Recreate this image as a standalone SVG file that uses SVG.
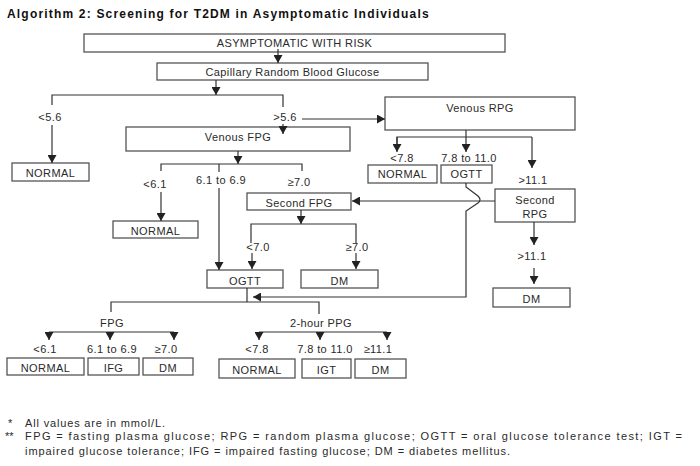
<svg xmlns="http://www.w3.org/2000/svg" width="700" height="466" viewBox="0 0 700 466">
<defs>
<marker id="arr" markerUnits="userSpaceOnUse" viewBox="0 0 8 9" refX="8" refY="4.5" markerWidth="8" markerHeight="9" orient="auto">
<path d="M0,0 L8,4.5 L0,9 z" fill="#222"/>
</marker>
<style>
text{font-family:"Liberation Sans",Arial,sans-serif;font-size:11px;fill:#2a2a2a;letter-spacing:0.4px}
.t{font-weight:bold;font-size:12px;fill:#111}
.c{text-anchor:middle}
.f{letter-spacing:0}
rect{fill:#fff;stroke:#555;stroke-width:1.3}
#connectors path{fill:none;stroke:#333;stroke-width:1.2}
.a{marker-end:url(#arr)}
</style>
</defs>
<rect width="700" height="466" style="fill:#fff;stroke:none"/>
<text class="t" x="7" y="18" textLength="422" lengthAdjust="spacing">Algorithm 2: Screening for T2DM in Asymptomatic Individuals</text>

<g id="n_top"><rect x="84" y="34" width="421" height="18"/><text class="c" x="294.5" y="47">ASYMPTOMATIC WITH RISK</text></g>
<g id="n_cap"><rect x="157" y="63" width="271" height="17"/><text class="c" x="292.5" y="76">Capillary Random Blood Glucose</text></g>
<g id="n_normal1"><rect x="12" y="163" width="77" height="18"/><text class="c" x="50.5" y="176.5">NORMAL</text></g>
<g id="n_vfpg"><rect x="126" y="127" width="224" height="24"/><text class="c" x="238" y="141">Venous FPG</text></g>
<g id="n_vrpg"><rect x="385" y="97" width="190" height="33"/><text class="c" x="480" y="112">Venous RPG</text></g>
<g id="n_normal2"><rect x="368" y="165" width="69" height="18"/><text class="c" x="402.5" y="177.5">NORMAL</text></g>
<g id="n_ogtt1"><rect x="441" y="165" width="51" height="18"/><text class="c" x="466.5" y="177.5">OGTT</text></g>
<g id="n_srpg"><rect x="495" y="189" width="80" height="33"/><text class="c" x="535" y="204">Second</text><text class="c" x="535" y="218">RPG</text></g>
<g id="n_sfpg"><rect x="247" y="193" width="104" height="17"/><text class="c" x="299" y="206.5">Second FPG</text></g>
<g id="n_normal3"><rect x="113" y="221" width="85" height="17"/><text class="c" x="155.5" y="235">NORMAL</text></g>
<g id="n_ogtt2"><rect x="207" y="270" width="76" height="18"/><text class="c" x="245" y="284.5">OGTT</text></g>
<g id="n_dm1"><rect x="301" y="270" width="77" height="18"/><text class="c" x="339.5" y="284.5">DM</text></g>
<g id="n_dm2"><rect x="493" y="288" width="77" height="19"/><text class="c" x="531.5" y="303">DM</text></g>
<g id="n_normal4"><rect x="7" y="358" width="77" height="17"/><text class="c" x="45.5" y="372">NORMAL</text></g>
<g id="n_ifg"><rect x="88" y="358" width="51" height="17"/><text class="c" x="113.5" y="372">IFG</text></g>
<g id="n_dm3"><rect x="143" y="358" width="50" height="17"/><text class="c" x="168" y="372">DM</text></g>
<g id="n_normal5"><rect x="219" y="359" width="76" height="19"/><text class="c" x="257" y="374">NORMAL</text></g>
<g id="n_igt"><rect x="302" y="359" width="49" height="19"/><text class="c" x="326.5" y="374">IGT</text></g>
<g id="n_dm4"><rect x="355" y="359" width="51" height="19"/><text class="c" x="380.5" y="374">DM</text></g>

<g id="connectors">
<path class="a" d="M278,49 V63"/>
<path class="a" d="M216,80 V95"/>
<path d="M52,105 V95 H283 V107"/>
<path class="a" d="M52,125 V163"/>
<path class="a" d="M283,124 V134"/>
<path class="a" d="M302,119 H385"/>
<path class="a" d="M238,151 V164"/>
<path d="M161,171 V164 H302 V171"/>
<path d="M219,164 V172"/>
<path class="a" d="M161,192 V221"/>
<path class="a" d="M219,188 V270"/>
<path class="a" d="M466,130 V152"/>
<path d="M397,144 V137 H532"/>
<path class="a" d="M397,137 V152"/>
<path class="a" d="M532,137 V168"/>
<path class="a" d="M466,183 V187 L478,196 Q482,200 478,203 L466,211 V297 H253"/>
<path class="a" d="M495,201 H352"/>
<path class="a" d="M534,222 V245"/>
<path class="a" d="M534,268 V284"/>
<path class="a" d="M301,210 V224"/>
<path d="M251,243 V224 H356 V243"/>
<path class="a" d="M252,253 V269"/>
<path class="a" d="M356,253 V269"/>
<path d="M247,288 V302"/>
<path d="M111,312 V302 H319 V314"/>
<path d="M49,332 H174"/>
<path class="a" d="M49,332 V340"/>
<path class="a" d="M110,332 V340"/>
<path class="a" d="M174,332 V340"/>
<path d="M259,332 H387"/>
<path class="a" d="M259,332 V340"/>
<path class="a" d="M320,332 V340"/>
<path class="a" d="M387,332 V340"/>
</g>

<g id="labels">
<text class="c" x="50" y="121">&lt;5.6</text>
<text class="c" x="285" y="121">&gt;5.6</text>
<text class="c" x="155" y="188">&lt;6.1</text>
<text class="c" x="221" y="184">6.1 to 6.9</text>
<text class="c" x="299" y="186">≥7.0</text>
<text class="c" x="402" y="162">&lt;7.8</text>
<text class="c" x="469" y="162">7.8 to 11.0</text>
<text class="c" x="533" y="184">&gt;11.1</text>
<text class="c" x="258" y="251">&lt;7.0</text>
<text class="c" x="357" y="251">≥7.0</text>
<text class="c" x="532" y="260">&gt;11.1</text>
<text class="c" x="112" y="327">FPG</text>
<text class="c" x="321" y="327">2-hour PPG</text>
<text class="c" x="45" y="353">&lt;6.1</text>
<text class="c" x="112" y="353">6.1 to 6.9</text>
<text class="c" x="166" y="353">≥7.0</text>
<text class="c" x="257" y="353">&lt;7.8</text>
<text class="c" x="325" y="353">7.8 to 11.0</text>
<text class="c" x="378" y="353">≥11.1</text>
</g>

<g id="notes">
<text class="f" x="8" y="427">*</text>
<text class="f" x="25" y="427" textLength="140" lengthAdjust="spacing">All values are in mmol/L.</text>
<text class="f" x="5" y="440">**</text>
<text class="f" x="25" y="440" textLength="657" lengthAdjust="spacing">FPG = fasting plasma glucose; RPG = random plasma glucose; OGTT = oral glucose tolerance test; IGT =</text>
<text class="f" x="25" y="455" textLength="485" lengthAdjust="spacing">impaired glucose tolerance; IFG = impaired fasting glucose; DM = diabetes mellitus.</text>
</g>
</svg>
